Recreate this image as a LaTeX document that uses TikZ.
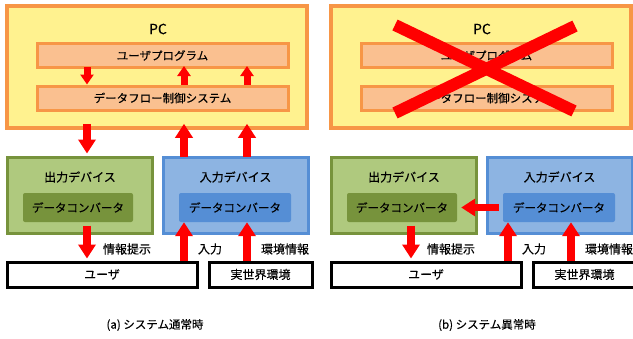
\documentclass[tikz,border=0pt]{standalone}
\usepackage{fontspec}
\setmainfont{Noto Sans CJK JP}[FakeBold=0.2]
\usetikzlibrary{arrows.meta}
\definecolor{pcfill}{HTML}{FFF28F}
\definecolor{orangeline}{HTML}{F79646}
\definecolor{peach}{HTML}{FAC090}
\definecolor{greenfill}{HTML}{AFC97E}
\definecolor{greenline}{HTML}{77933C}
\definecolor{bluefill}{HTML}{8DB4E2}
\definecolor{blueline}{HTML}{558ED5}
\definecolor{arrowred}{HTML}{FF0000}
\tikzset{
  pcbox/.style={draw=orangeline, line width=3.5pt, fill=pcfill, minimum width=300pt, minimum height=122pt, inner sep=0pt},
  pclabel/.style={font=\fontsize{14}{16}\selectfont, inner sep=0pt},
  progbox/.style={draw=orangeline, line width=3pt, fill=peach, minimum width=251pt, minimum height=24pt, inner sep=0pt, font=\fontsize{11.5}{13}\selectfont},
  outbox/.style={draw=greenline, line width=3pt, fill=greenfill, minimum width=145pt, minimum height=76pt, inner sep=0pt},
  inbox/.style={draw=blueline, line width=3pt, fill=bluefill, minimum width=145pt, minimum height=76pt, inner sep=0pt},
  devtitle/.style={font=\fontsize{12}{14}\selectfont, inner sep=0pt},
  outconv/.style={fill=greenline, rounded corners=2pt, minimum width=110pt, minimum height=29pt, inner sep=0pt, font=\fontsize{11.5}{13}\selectfont},
  inconv/.style={fill=blueline, rounded corners=2pt, minimum width=112pt, minimum height=29pt, inner sep=0pt, font=\fontsize{11.5}{13}\selectfont},
  userbox/.style={draw=black, line width=3pt, fill=white, minimum height=25pt, inner sep=0pt, font=\fontsize{12}{14}\selectfont},
  flowlabel/.style={font=\fontsize{12}{14}\selectfont, inner sep=0pt},
  caption/.style={font=\fontsize{11.5}{13}\selectfont, inner sep=0pt},
  bigarrow/.style={draw=arrowred, line width=7.5pt, -{Triangle[width=17pt,length=14pt]}},
  smallarrow/.style={draw=arrowred, line width=7pt, -{Triangle[width=13pt,length=10pt]}},
  crossline/.style={draw=arrowred, line width=12pt, line cap=butt}
}
\newcommand\drawpanel[1]{%
  \node[pcbox] (#1pc) at (157,67) {};
  \node[pclabel] (#1pct) at (158,29) {PC};
  \node[progbox] (#1up) at (162.5,55.5) {ユーザプログラム};
  \node[progbox] (#1dfc) at (162.5,98) {データフロー制御システム};
  \node[outbox] (#1od) at (79.5,195) {};
  \node[devtitle] (#1odt) at (80,177) {出力デバイス};
  \node[outconv] (#1oc) at (78,207.5) {データコンバータ};
  \node[inbox] (#1id) at (235.5,195) {};
  \node[devtitle] (#1idt) at (235.5,177) {入力デバイス};
  \node[inconv] (#1ic) at (235,207.5) {データコンバータ};
  \node[userbox, minimum width=190pt] (#1user) at (102,274.5) {ユーザ};
  \node[userbox, minimum width=103pt] (#1env) at (260.5,274.5) {実世界環境};
  \coordinate (#1xa) at (87,0);
  \coordinate (#1xb) at (184,0);
  \coordinate (#1xc) at (247,0);
  \draw[bigarrow, shorten <=-9pt, shorten >=2pt] (#1od.south -| #1xa) -- (#1user.north -| #1xa);
  \draw[bigarrow] (#1user.north -| #1xb) -- (#1ic.south -| #1xb);
  \draw[bigarrow] (#1env.north -| #1xc) -- (#1ic.south -| #1xc);
  \node[flowlabel] (#1l1) at (127,249) {情報提示};
  \node[flowlabel] (#1l2) at (210,249) {入力};
  \node[flowlabel] (#1l3) at (285,249) {環境情報};
}
\begin{document}
\begin{tikzpicture}[x=1pt, y=-1pt]
\useasboundingbox (0,0) rectangle (633,338);
\clip (0,0) rectangle (633,338);
\fill[white] (0,0) rectangle (633,338);
% panel (a)
\drawpanel{A}
\draw[smallarrow, shorten <=-2pt] (Aup.south -| Axa) -- (Adfc.north -| Axa);
\draw[smallarrow, shorten >=-3pt] (Adfc.north -| Axb) -- (Aup.south -| Axb);
\draw[smallarrow, shorten >=-3pt] (Adfc.north -| Axc) -- (Aup.south -| Axc);
\draw[bigarrow, shorten <=-6pt, shorten >=2pt] (Apc.south -| Axa) -- (Aod.north -| Axa);
\draw[bigarrow, shorten <=-1pt, shorten >=-6pt] (Aid.north -| Axb) -- (Apc.south -| Axb);
\draw[bigarrow, shorten <=-1pt, shorten >=-6pt] (Aid.north -| Axc) -- (Apc.south -| Axc);
% panel (b)
\begin{scope}[xshift=324pt]
\drawpanel{B}
\end{scope}
\draw[bigarrow, shorten <=4pt, shorten >=4pt] (Bic.west) -- (Boc.east);
\coordinate (Bx1) at (395,25);
\coordinate (Bx2) at (574,111);
\coordinate (Bx3) at (575,26);
\coordinate (Bx4) at (395,113);
\draw[crossline] (Bx1) -- (Bx2);
\draw[crossline] (Bx3) -- (Bx4);
% captions
\node[caption] (capa) at (155,325) {(a) システム通常時};
\node[caption] (capb) at (487,325) {(b) システム異常時};
\end{tikzpicture}
\end{document}
